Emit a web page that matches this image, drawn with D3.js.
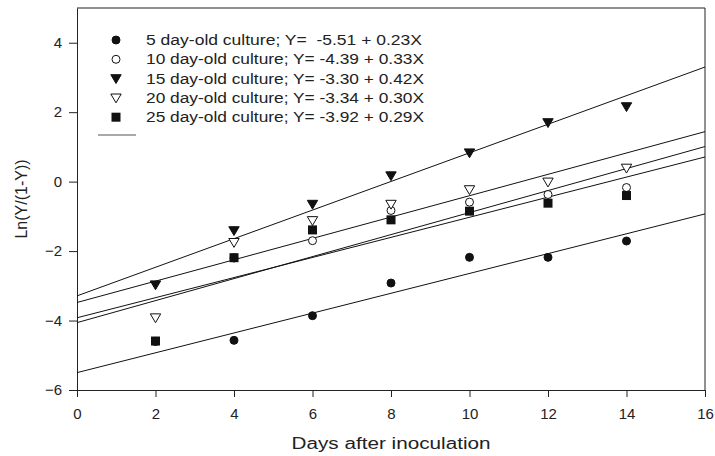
<!DOCTYPE html>
<html>
<head>
<meta charset="utf-8">
<script src="https://cdn.jsdelivr.net/npm/d3@7"></script>
<style>
  body { margin: 0; background: #fff; }
  text { font-family: "Liberation Sans", Arial, sans-serif; fill: #222; }
</style>
</head>
<body>
<div id="chart"></div>
<script>
// days sampled
var days = [2, 4, 6, 8, 10, 12, 14];

// Ln(Y/(1-Y)), one list per culture age
var culture5 = [-4.60, -4.57, -3.86, -2.92, -2.18, -2.18, -1.71];
var culture10 = [-4.60, -2.20, -1.70, -0.83, -0.59, -0.37, -0.17];
var culture15 = [-2.97, -1.41, -0.65, 0.17, 0.83, 1.70, 2.16];
var culture20 = [-3.92, -1.75, -1.12, -0.65, -0.23, -0.01, 0.39];
var culture25 = [-4.59, -2.19, -1.39, -1.10, -0.85, -0.62, -0.40];

// fitted lines as drawn (value at day 0 and at day 16)
var fitStart = [-5.50, -4.06, -3.29, -3.48, -3.92];
var fitEnd = [-0.93, 1.01, 3.30, 1.44, 0.71];

var legendLabels = [
  "5 day-old culture; Y=  -5.51 + 0.23X",
  "10 day-old culture; Y= -4.39 + 0.33X",
  "15 day-old culture; Y= -3.30 + 0.42X",
  "20 day-old culture; Y= -3.34 + 0.30X",
  "25 day-old culture; Y= -3.92 + 0.29X"
];
var symbols = ["circleFilled", "circleOpen", "triDownFilled", "triDownOpen", "squareFilled"];

var xTicks = [0, 2, 4, 6, 8, 10, 12, 14, 16];
var yTicks = [-6, -4, -2, 0, 2, 4];

var series = [culture5, culture10, culture15, culture20, culture25];

var svgWidth = 715;
var svgHeight = 456;
var margin = { top: 8, right: 10, bottom: 66, left: 77 };
var width = svgWidth - margin.left - margin.right;
var height = svgHeight - margin.top - margin.bottom;

var svg = d3.select("#chart")
  .append("svg")
  .attr("width", svgWidth)
  .attr("height", svgHeight);

var chartGroup = svg.append("g")
  .attr("transform", `translate(${margin.left}, ${margin.top})`);

var xScale = d3.scaleLinear().domain([0, 16]).range([0, width]);
var yScale = d3.scaleLinear().domain([-6, 5]).range([height, 0]);

// frame: top and right border
chartGroup.append("path")
  .attr("d", `M0,0H${width}V${height}`)
  .attr("fill", "none")
  .attr("stroke", "#222")
  .attr("stroke-width", 1);

var bottomAxis = d3.axisBottom(xScale).tickValues(xTicks).tickSize(7).tickPadding(11).tickSizeOuter(0);
var leftAxis = d3.axisLeft(yScale).tickValues(yTicks).tickSize(8).tickPadding(7).tickSizeOuter(0);

var xAxis = chartGroup.append("g")
  .attr("transform", `translate(0, ${height})`)
  .call(bottomAxis);

var yAxis = chartGroup.append("g")
  .call(leftAxis);

[xAxis, yAxis].forEach(function(ax) {
  ax.selectAll("path, line").attr("stroke", "#222");
  ax.selectAll("text").attr("font-size", "15px").attr("fill", "#222")
    .attr("font-family", "Liberation Sans, Arial, sans-serif");
});

// fitted lines
fitStart.forEach(function(v, i) {
  chartGroup.append("line")
    .attr("x1", xScale(0))
    .attr("y1", yScale(v))
    .attr("x2", xScale(16))
    .attr("y2", yScale(fitEnd[i]))
    .attr("stroke", "#111")
    .attr("stroke-width", 1);
});

function drawSymbol(g, kind, cx, cy) {
  if (kind === "circleFilled" || kind === "circleOpen") {
    g.append("circle")
      .attr("cx", cx).attr("cy", cy).attr("r", 4)
      .attr("fill", kind === "circleFilled" ? "#111" : "#fff")
      .attr("stroke", "#111").attr("stroke-width", 1);
  } else if (kind === "triDownFilled" || kind === "triDownOpen") {
    var s = 5.2;
    g.append("path")
      .attr("d", `M${cx - s},${cy - s * 0.75}L${cx + s},${cy - s * 0.75}L${cx},${cy + s * 0.95}Z`)
      .attr("fill", kind === "triDownFilled" ? "#111" : "#fff")
      .attr("stroke", "#111").attr("stroke-width", 1);
  } else {
    g.append("rect")
      .attr("x", cx - 4.5).attr("y", cy - 4.5)
      .attr("width", 9).attr("height", 9)
      .attr("fill", "#111");
  }
}

// data points
series.forEach(function(vals, i) {
  var g = chartGroup.append("g");
  vals.forEach(function(v, j) {
    drawSymbol(g, symbols[i], xScale(days[j]), yScale(v));
  });
});

// legend
var legend = svg.append("g").attr("transform", "translate(116, 40)");
legendLabels.forEach(function(label, i) {
  var y = i * 19.3;
  drawSymbol(legend, symbols[i], 0, y);
  legend.append("text")
    .attr("x", 30)
    .attr("y", y)
    .attr("dy", "0.35em")
    .attr("font-size", "14px")
    .attr("textLength", i === 0 ? 276 : 278)
    .attr("lengthAdjust", "spacingAndGlyphs")
    .style("white-space", "pre")
    .text(label);
});
legend.append("line")
  .attr("x1", -18).attr("x2", 20)
  .attr("y1", 95).attr("y2", 95)
  .attr("stroke", "#555").attr("stroke-width", 1);

// axis titles
svg.append("text")
  .attr("x", margin.left + width / 2)
  .attr("y", 449)
  .attr("text-anchor", "middle")
  .attr("font-size", "16px")
  .attr("textLength", 199)
  .attr("lengthAdjust", "spacingAndGlyphs")
  .text("Days after inoculation");

svg.append("text")
  .attr("transform", "rotate(-90)")
  .attr("x", -199)
  .attr("y", 27)
  .attr("text-anchor", "middle")
  .attr("font-size", "16px")
  .text("Ln(Y/(1-Y))");
</script>
</body>
</html>
